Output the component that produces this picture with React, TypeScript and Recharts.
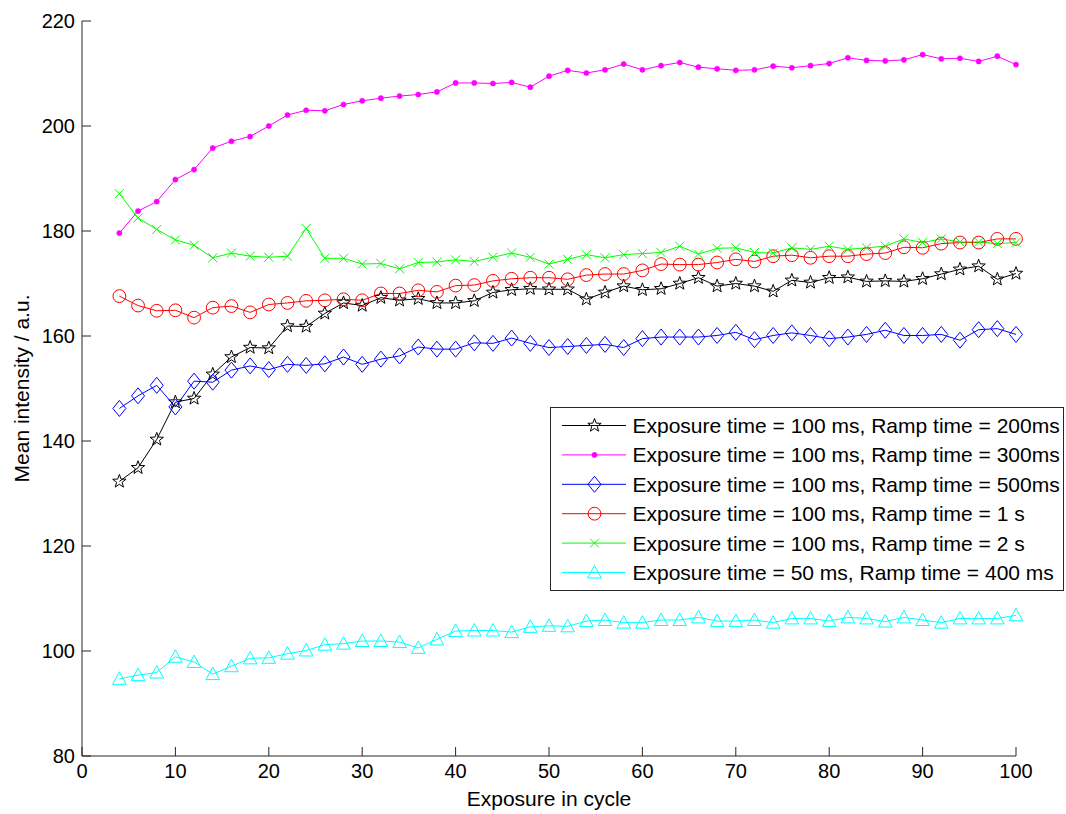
import React from 'react'
import { LineChart, Line, XAxis, YAxis, Legend, Label } from 'recharts'

const FONT = '"Liberation Sans", Arial, Helvetica, sans-serif'
const AXIS_COLOR = '#262626'

const cycles = [
  4, 6, 8, 10, 12, 14, 16, 18, 20, 22, 24, 26, 28, 30, 32, 34, 36, 38, 40, 42, 44, 46, 48, 50, 52,
  54, 56, 58, 60, 62, 64, 66, 68, 70, 72, 74, 76, 78, 80, 82, 84, 86, 88, 90, 92, 94, 96, 98, 100,
]

const ramp200ms = [
  132.3, 134.9, 140.3, 147.4, 148.1, 152.7, 156.0, 157.8, 157.7, 161.9, 161.8, 164.3, 166.3, 165.8, 167.3, 166.8, 167.1,
  166.3, 166.3, 166.7, 168.3, 168.8, 169.0, 168.9, 168.9, 167.0, 168.3, 169.5, 168.8, 169.0, 170.0, 171.1, 169.5, 170.0,
  169.5, 168.5, 170.6, 170.2, 171.1, 171.2, 170.4, 170.5, 170.4, 170.9, 171.8, 172.7, 173.3, 170.8, 171.9,
]

const ramp300ms = [
  179.6, 183.8, 185.6, 189.8, 191.7, 195.8, 197.1, 198.0, 200.0, 202.1, 203.0, 202.9, 204.1, 204.8, 205.3, 205.7, 206.0,
  206.5, 208.2, 208.2, 208.1, 208.3, 207.4, 209.5, 210.6, 210.1, 210.7, 211.8, 210.7, 211.5, 212.1, 211.2, 210.9, 210.6,
  210.7, 211.4, 211.1, 211.5, 211.9, 213.0, 212.5, 212.4, 212.6, 213.6, 212.8, 212.9, 212.3, 213.3, 211.7,
]

const ramp500ms = [
  146.2, 148.6, 150.6, 146.5, 151.4, 151.2, 153.5, 154.3, 153.6, 154.6, 154.4, 154.7, 156.0, 154.6, 155.6, 156.2, 157.9,
  157.5, 157.5, 158.7, 158.6, 159.6, 158.6, 157.8, 158.0, 158.2, 158.4, 157.8, 159.5, 159.8, 159.8, 159.8, 160.1, 160.7,
  159.3, 160.1, 160.6, 160.1, 159.5, 159.8, 160.3, 161.1, 160.1, 160.1, 160.3, 159.2, 161.2, 161.4, 160.3,
]

const ramp1s = [
  167.6, 165.8, 164.8, 164.9, 163.5, 165.4, 165.7, 164.5, 166.0, 166.3, 166.7, 166.8, 167.0, 166.8, 168.1, 168.1, 168.7,
  168.4, 169.6, 169.7, 170.5, 170.9, 171.1, 171.1, 170.8, 171.6, 171.8, 171.8, 172.5, 173.7, 173.6, 173.6, 174.0, 174.6,
  174.2, 175.2, 175.4, 174.9, 175.2, 175.2, 175.6, 175.8, 176.9, 176.8, 177.6, 177.8, 177.8, 178.5, 178.5,
]

const ramp2s = [
  187.1, 182.5, 180.3, 178.3, 177.3, 174.9, 175.8, 175.2, 175.0, 175.2, 180.5, 174.8, 174.8, 173.7, 173.8, 172.8, 174.0,
  174.1, 174.5, 174.2, 175.0, 175.8, 175.0, 173.7, 174.6, 175.5, 174.9, 175.5, 175.7, 175.9, 177.1, 175.6, 176.7, 176.8,
  175.9, 175.8, 176.8, 176.5, 177.1, 176.5, 176.8, 177.1, 178.5, 177.8, 178.5, 177.9, 177.9, 177.6, 177.8,
]

const exp50ramp400 = [
  94.7, 95.4, 95.9, 98.9, 97.9, 95.6, 97.1, 98.6, 98.7, 99.5, 100.1, 101.2, 101.4, 101.9, 101.9, 101.7, 100.6,
  102.2, 103.8, 103.9, 103.9, 103.6, 104.6, 104.8, 104.7, 105.7, 105.9, 105.4, 105.4, 105.9, 105.9, 106.4, 105.7, 105.7,
  105.9, 105.4, 106.2, 106.2, 105.7, 106.4, 106.2, 105.6, 106.4, 105.9, 105.4, 106.2, 106.2, 106.2, 106.8,
]

const xTicks = [0, 10, 20, 30, 40, 50, 60, 70, 80, 90, 100]
const yTicks = [80, 100, 120, 140, 160, 180, 200, 220]

type MarkerKind = 'star' | 'dot' | 'diamond' | 'circle' | 'cross' | 'triangle'

const series: { key: string; name: string; color: string; marker: MarkerKind; values: number[] }[] = [
  { key: 'r200', name: 'Exposure time = 100 ms, Ramp time = 200ms', color: '#000000', marker: 'star', values: ramp200ms },
  { key: 'r300', name: 'Exposure time = 100 ms, Ramp time = 300ms', color: '#ff00ff', marker: 'dot', values: ramp300ms },
  { key: 'r500', name: 'Exposure time = 100 ms, Ramp time = 500ms', color: '#0000ff', marker: 'diamond', values: ramp500ms },
  { key: 'r1s', name: 'Exposure time = 100 ms, Ramp time = 1 s', color: '#ff0000', marker: 'circle', values: ramp1s },
  { key: 'r2s', name: 'Exposure time = 100 ms, Ramp time = 2 s', color: '#00ff00', marker: 'cross', values: ramp2s },
  { key: 'e50', name: 'Exposure time = 50 ms, Ramp time = 400 ms', color: '#00ffff', marker: 'triangle', values: exp50ramp400 },
]

const rows = cycles.map((cycle, i) => {
  const row: Record<string, number> = { cycle }
  series.forEach((s) => {
    row[s.key] = s.values[i]
  })
  return row
})

function starPoints(cx: number, cy: number, outer: number, inner: number) {
  const pts: string[] = []
  for (let k = 0; k < 10; k++) {
    const r = k % 2 === 0 ? outer : inner
    const a = -Math.PI / 2 + (k * Math.PI) / 5
    pts.push(`${cx + r * Math.cos(a)},${cy + r * Math.sin(a)}`)
  }
  return pts.join(' ')
}

function Marker({ kind, cx, cy, color }: { kind: MarkerKind; cx: number; cy: number; color: string }) {
  switch (kind) {
    case 'star':
      return <polygon points={starPoints(cx, cy, 7, 2.9)} fill="none" stroke={color} strokeWidth={1} />
    case 'dot':
      return <circle cx={cx} cy={cy} r={2.6} fill={color} stroke={color} strokeWidth={0.5} />
    case 'diamond':
      return (
        <polygon
          points={`${cx},${cy - 8} ${cx + 6.5},${cy} ${cx},${cy + 8} ${cx - 6.5},${cy}`}
          fill="none"
          stroke={color}
          strokeWidth={1}
        />
      )
    case 'circle':
      return <circle cx={cx} cy={cy} r={6.4} fill="none" stroke={color} strokeWidth={1} />
    case 'cross':
      return (
        <path
          d={`M${cx - 4.5},${cy - 4.5}L${cx + 4.5},${cy + 4.5}M${cx - 4.5},${cy + 4.5}L${cx + 4.5},${cy - 4.5}`}
          stroke={color}
          strokeWidth={1}
        />
      )
    case 'triangle':
      return (
        <polygon
          points={`${cx},${cy - 7} ${cx + 6.8},${cy + 5.5} ${cx - 6.8},${cy + 5.5}`}
          fill="none"
          stroke={color}
          strokeWidth={1}
        />
      )
  }
}

function LegendBox() {
  return (
    <div style={{ width: 514, height: 184, border: `1px solid ${AXIS_COLOR}`, background: '#fff', boxSizing: 'border-box' }}>
      <svg width={512} height={182} style={{ display: 'block' }}>
        {series.map((s, i) => {
          const y = 17.5 + i * 29.4
          return (
            <g key={s.key}>
              <line x1={11} x2={75} y1={y} y2={y} stroke={s.color} strokeWidth={1} />
              <Marker kind={s.marker} cx={43.5} cy={y} color={s.color} />
              <text x={81.5} y={y} dominantBaseline="central" fontFamily={FONT} fontSize={21} fill="#000">
                {s.name}
              </text>
            </g>
          )
        })}
      </svg>
    </div>
  )
}

export default function App() {
  return (
    <div style={{ position: 'absolute', left: 0, top: 0, width: 1066, height: 814, background: '#fff' }}>
      <LineChart width={1066} height={814} data={rows} margin={{ top: 21, right: 50, bottom: 0, left: 0 }}>
        <XAxis
          dataKey="cycle"
          type="number"
          domain={[0, 100]}
          ticks={xTicks}
          height={58}
          stroke={AXIS_COLOR}
          tickSize={-9}
          tickMargin={17}
          tick={{ fill: '#000', fontSize: 20, fontFamily: FONT }}
        >
          <Label
            value="Exposure in cycle"
            position="insideBottom"
            offset={8}
            style={{ fill: '#000', fontSize: 21, fontFamily: FONT }}
          />
        </XAxis>
        <YAxis
          type="number"
          domain={[80, 220]}
          ticks={yTicks}
          width={82}
          stroke={AXIS_COLOR}
          tickSize={-9}
          tickMargin={16}
          tick={{ fill: '#000', fontSize: 20, fontFamily: FONT }}
        >
          <Label
            content={({ viewBox }: any) => {
              const cy = viewBox.y + viewBox.height / 2
              return (
                <text
                  x={21}
                  y={cy}
                  transform={`rotate(-90, 21, ${cy})`}
                  textAnchor="middle"
                  dominantBaseline="central"
                  fontFamily={FONT}
                  fontSize={21}
                  fill="#000"
                >
                  Mean intensity / a.u.
                </text>
              )
            }}
          />
        </YAxis>
        {series.map((s) => (
          <Line
            key={s.key}
            dataKey={s.key}
            name={s.name}
            type="linear"
            stroke={s.color}
            strokeWidth={1}
            isAnimationActive={false}
            activeDot={false}
            dot={(p: any) => <Marker key={`${s.key}-${p.index}`} kind={s.marker} cx={p.cx} cy={p.cy} color={s.color} />}
          />
        ))}
        <Legend
          layout="horizontal"
          verticalAlign="middle"
          align="center"
          content={() => <LegendBox />}
          wrapperStyle={{ left: 550, top: 407, width: 514, height: 184 }}
        />
      </LineChart>
    </div>
  )
}
